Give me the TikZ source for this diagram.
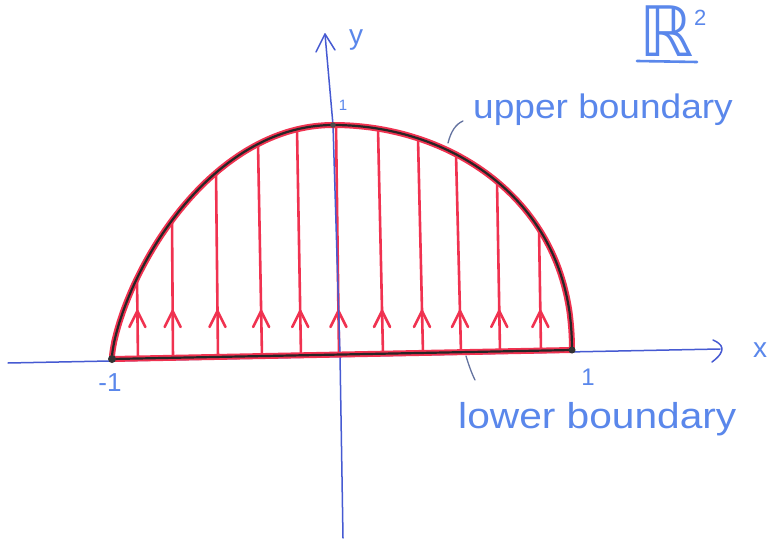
\documentclass[tikz,border=0pt]{standalone}
\usepackage{fontspec}
\setmainfont{Liberation Sans}
\newfontfamily\dejavu{DejaVu Sans}
\definecolor{axisblue}{RGB}{70,90,210}
\definecolor{labelblue}{RGB}{90,135,235}
\definecolor{flowred}{RGB}{240,50,80}
\definecolor{leadercol}{RGB}{100,115,160}
\begin{document}
\begin{tikzpicture}[x=1pt,y=-1pt,
  axis/.style={draw=axisblue, line width=1.5pt, line cap=round, line join=round},
  flow/.style={draw=flowred, line width=2.6pt, line cap=round, line join=round},
  redbound/.style={draw=flowred, line width=6pt, line cap=round, line join=round},
  blackbound/.style={draw=black!85, line width=2.2pt, line cap=round, line join=round},
  leader/.style={draw=leadercol, line width=1.3pt, line cap=round},
  hand/.style={text=labelblue, inner sep=0pt},
]
\useasboundingbox (0,0) rectangle (771,540);
\fill[white] (0,0) rectangle (771,540);

% named points
\coordinate (L) at (112,359);
\coordinate (R) at (572,350);
\coordinate (T) at (333,125);
\coordinate (xs) at (8,363);
\coordinate (xe) at (720,349);
\coordinate (ys) at (343,538);
\coordinate (ye) at (325,34);

% flow lines (vertical, pointing up)
\foreach \tx/\d in {137/1, 172/1, 216/2, 258/4, 297/4, 336/3, 378/5, 418/5, 456/5, 497/3, 539/2}{
  \pgfmathsetmacro\ty{\tx<333 ? 357-232*(1-((333-\tx)/221)^2)^0.7 : 352-227*(1-((\tx-333)/239)^2)^0.45}
  \pgfmathsetmacro\bx{\tx+\d}
  \pgfmathsetmacro\by{360-(\bx-112)*10/460}
  \pgfmathsetmacro\ax{\tx+\d*(311-\ty)/(\by-\ty)}
  \draw[flow] (\bx,\by) -- (\tx,\ty);
  \draw[flow] (\ax-8,327) -- (\ax,311) -- (\ax+8,327);
}

% axes
\draw[axis] (xs) -- (xe);
\draw[axis] (713,340) .. controls (722,344) and (728,350) .. (712,362);
\draw[axis] (ys) -- (340,355) -- (T) -- (ye);
\draw[axis] (316,52) -- (ye) -- (335,50);

% boundary
\def\boundarypath{(L) -- plot[domain=89.5:0, samples=70, smooth] ({333-221*sin(\x)},{357-232*(cos(\x))^1.4}) -- plot[domain=0:89.5, samples=70, smooth] ({333+239*sin(\x)},{352-227*(cos(\x))^0.9}) -- (R)}
\draw[redbound] \boundarypath;
\draw[blackbound] \boundarypath;
\draw[redbound] (L) -- (R);
\draw[blackbound, shift={(0,1)}] (L) -- (R);
\fill[black!80] (L) circle (4);
\fill[black!80] (R) circle (3.5);
\fill[black!70] (T) circle (2.8);

% leaders
\coordinate (ub) at (448,143);
\coordinate (ubl) at (463,121);
\draw[leader] (ub) .. controls (451,131) and (456,124) .. (ubl);
\coordinate (lb) at (466,356);
\coordinate (lbl) at (475,380);
\draw[leader] (lb) .. controls (469,366) and (472,374) .. (lbl);

% labels
\node[hand, anchor=base west, xscale=1.43, yscale=1.45, font=\dejavu\fontsize{48}{48}\selectfont] (R2) at (639,57) {ℝ};
\node[hand, anchor=base west, xscale=1.09, font=\fontsize{34}{34}\selectfont] (upper) at (473,119) {upper boundary};
\node[hand, anchor=base west, xscale=1.13, font=\fontsize{36}{36}\selectfont] (lower) at (458,428) {lower boundary};
\node[hand, anchor=base west, font=\fontsize{22}{22}\selectfont] (sq) at (694,26) {2};
\draw[labelblue, line width=2.6pt, line cap=round] (637,61) coordinate (ul1) -- (697,62) coordinate (ul2);
\node[hand, font=\fontsize{28}{28}\selectfont] (ylab) at (356,40) {y};
\node[hand, font=\fontsize{28}{28}\selectfont] (xlab) at (760,350) {x};
\node[hand, font=\fontsize{15}{15}\selectfont] (one_y) at (343,105) {1};
\node[hand, font=\fontsize{24}{24}\selectfont] (one_x) at (588,377) {1};
\node[hand, font=\fontsize{26}{26}\selectfont] (mone) at (110,383) {-1};
\end{tikzpicture}
\end{document}
